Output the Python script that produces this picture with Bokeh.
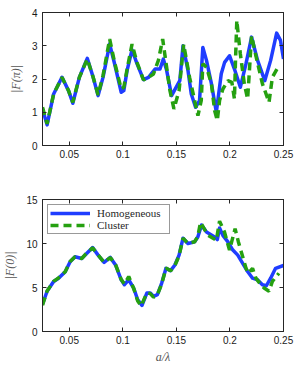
from bokeh.plotting import figure
from bokeh.layouts import column
from bokeh.models import (Range1d, FixedTicker, LinearAxis, Legend, LegendItem,
                          CustomJSTickFormatter)
from bokeh.embed import file_html
from bokeh.resources import INLINE

# ---------------- data ----------------
x_pi_hom = [0.025, 0.0293, 0.0354, 0.0432, 0.0493, 0.0533, 0.0594, 0.0668, 0.0723, 0.0769,
            0.0815, 0.0877, 0.0923, 0.0985, 0.1009, 0.104, 0.1086, 0.1132, 0.1193, 0.124,
            0.1301, 0.1347, 0.1378, 0.1409, 0.1455, 0.1532, 0.1562, 0.1608, 0.1639, 0.1679,
            0.1716, 0.1747, 0.1781, 0.1827, 0.1873, 0.1919, 0.195, 0.1996, 0.2042, 0.2097,
            0.215, 0.2202, 0.2258, 0.2325, 0.238, 0.2436, 0.2472, 0.25]
f_pi_hom = [1.10, 0.62, 1.55, 2.05, 1.65, 1.27, 2.05, 2.62, 2.05, 1.5,
            2.05, 3.05, 2.46, 1.6, 1.65, 2.26, 2.88, 2.46, 1.98, 2.05,
            2.3, 2.3, 2.6, 2.26, 1.5, 1.95, 3.0, 2.26, 1.55, 1.15,
            1.35, 2.95, 2.56, 1.86, 1.0, 2.16, 2.5, 2.7, 2.3, 1.75,
            2.46, 3.26, 2.56, 1.95, 2.56, 3.38, 3.16, 2.6]

x_pi_clu = [0.025, 0.0293, 0.0354, 0.0432, 0.0493, 0.0533, 0.0594, 0.0668, 0.0723, 0.0769,
            0.0815, 0.0877, 0.0923, 0.0985, 0.1009, 0.104, 0.1086, 0.1132, 0.1193, 0.124,
            0.1286, 0.1332, 0.1372, 0.1409, 0.144, 0.1477, 0.1525, 0.1568, 0.1623, 0.1701,
            0.1732, 0.1747, 0.1781, 0.1827, 0.1857, 0.1882, 0.1903, 0.1934, 0.1981, 0.2018,
            0.2042, 0.2051, 0.2064, 0.2097, 0.2134, 0.2165, 0.218, 0.2202, 0.2242, 0.2303,
            0.2365, 0.2396, 0.2448]
f_pi_clu = [1.15, 0.65, 1.55, 2.05, 1.65, 1.3, 2.05, 2.6, 2.05, 1.52,
            2.1, 3.2, 2.5, 1.7, 1.75, 2.3, 3.05, 2.5, 1.97, 2.05,
            2.15, 2.56, 3.2, 2.35, 1.65, 1.1, 1.65, 3.04, 2.05, 0.9,
            1.35, 2.46, 2.35, 1.86, 1.05, 0.75, 1.35, 1.7, 1.95, 1.9,
            1.4, 2.46, 3.76, 2.76, 1.86, 1.4, 2.16, 3.3, 2.7, 1.86,
            1.3, 2.05, 2.35]

x_0_hom = [0.025, 0.0293, 0.0354, 0.04, 0.0462, 0.0508, 0.0554, 0.0616, 0.0662, 0.0718,
           0.0769, 0.0825, 0.0883, 0.0932, 0.0985, 0.1015, 0.1055, 0.1101, 0.1138, 0.1179,
           0.1225, 0.1256, 0.1286, 0.1323, 0.1363, 0.1403, 0.1446, 0.1486, 0.1525, 0.1562,
           0.1608, 0.167, 0.170, 0.1735, 0.1781, 0.1857, 0.1882, 0.1903, 0.1934, 0.1981,
           0.2027, 0.2073, 0.2119, 0.2165, 0.2211, 0.2257, 0.2303, 0.234, 0.238, 0.2426, 0.25]
f_0_hom = [3.1, 4.57, 5.69, 6.06, 6.8, 7.93, 8.5, 8.3, 8.87, 9.54,
           8.68, 7.86, 8.42, 7.56, 5.88, 5.32, 5.88, 4.94, 3.64, 2.96,
           4.38, 4.38, 4.0, 4.2, 5.5, 7.18, 6.92, 7.56, 8.68, 10.6,
           10.0, 10.18, 10.74, 12.1, 11.3, 10.74, 10.44, 11.75, 10.93, 10.18,
           9.25, 8.68, 7.74, 6.81, 6.06, 5.88, 5.32, 5.2, 6.06, 7.18, 7.5]

x_0_clu = [0.025, 0.0293, 0.0354, 0.04, 0.0462, 0.0508, 0.0554, 0.0616, 0.0662, 0.0718,
           0.0769, 0.0825, 0.0883, 0.0932, 0.0985, 0.1015, 0.1055, 0.1101, 0.1138, 0.117,
           0.1225, 0.1256, 0.1286, 0.1323, 0.1363, 0.1403, 0.1446, 0.1486, 0.1525, 0.1562,
           0.1608, 0.167, 0.170, 0.1725, 0.1796, 0.1873, 0.1903, 0.1949, 0.1996, 0.2048,
           0.2079, 0.2119, 0.215, 0.2171, 0.2211, 0.2242, 0.2288, 0.2319, 0.2365, 0.2396, 0.2457]
f_0_clu = [3.0, 4.6, 5.7, 6.1, 6.8, 7.95, 8.5, 8.3, 8.9, 9.5,
           8.7, 7.85, 8.4, 7.6, 5.9, 5.4, 6.25, 4.9, 3.5, 2.9,
           4.4, 4.3, 3.9, 4.2, 5.4, 7.2, 6.9, 7.5, 8.6, 10.6,
           10.0, 10.2, 10.8, 12.4, 10.93, 10.37, 12.54, 11.3, 9.25, 11.67,
           10.18, 8.5, 7.18, 6.62, 7.18, 6.06, 5.32, 4.94, 4.57, 5.69, 6.62]

x_ticks = [0.05, 0.1, 0.15, 0.2, 0.25]
y_ticks_pi = [0, 1, 2, 3, 4]
y_ticks_0 = [0, 5, 10, 15]
series_names = ["Homogeneous", "Cluster"]

BLUE = "#1f3dff"
GREEN = "#25a010"
TICK_FONT = "Liberation Sans"
SERIF = "Liberation Serif"
FRAME = "#262626"


def make_fig(height, top, bottom, yticks, ymax, ylabel, xlabel=None):
    p = figure(width=295, height=height, output_backend="svg", toolbar_location=None,
               x_range=Range1d(0.025, 0.25), y_range=Range1d(0, ymax),
               min_border_left=39, min_border_right=12,
               min_border_top=top, min_border_bottom=bottom)
    p.grid.visible = False
    p.outline_line_color = FRAME
    p.outline_line_width = 1
    p.background_fill_color = "white"
    p.border_fill_color = "white"
    fmt = CustomJSTickFormatter(code="return tick.toString();")
    for ax in [p.xaxis[0], p.yaxis[0]]:
        ax.major_tick_in = 4
        ax.major_tick_out = 0
        ax.minor_tick_line_color = None
        ax.axis_line_color = FRAME
        ax.major_tick_line_color = FRAME
        ax.major_label_text_font = TICK_FONT
        ax.major_label_text_font_size = "10px"
        ax.major_label_text_color = "#1a1a1a"
        ax.axis_label_text_font = SERIF
        ax.axis_label_text_font_style = "italic"
        ax.axis_label_text_font_size = "12px"
        ax.axis_label_text_color = "#555555"
    p.xaxis[0].ticker = FixedTicker(ticks=x_ticks)
    p.xaxis[0].formatter = fmt
    p.xaxis[0].major_label_standoff = 4
    p.yaxis[0].ticker = FixedTicker(ticks=yticks)
    p.yaxis[0].major_label_standoff = 5
    p.yaxis[0].axis_label = ylabel
    p.yaxis[0].axis_label_standoff = 6
    if xlabel:
        p.xaxis[0].axis_label = xlabel
        p.xaxis[0].axis_label_standoff = 3
    # mirrored ticks (box on)
    for loc, tk in (("right", yticks), ("above", x_ticks)):
        ax = LinearAxis(ticker=FixedTicker(ticks=tk), major_tick_in=4, major_tick_out=0,
                        major_label_text_color=None, major_label_text_font_size="1px",
                        major_label_standoff=0,
                        minor_tick_line_color=None, axis_line_color=FRAME,
                        major_tick_line_color=FRAME)
        p.add_layout(ax, loc)
    return p


p1 = make_fig(178, 12, 33, y_ticks_pi, 4, "|F(π)|")
p1.line(x_pi_hom, f_pi_hom, line_color=BLUE, line_width=3.5, line_join="round")
p1.line(x_pi_clu, f_pi_clu, line_color=GREEN, line_width=3.5, line_dash="8 5")

p2 = make_fig(188, 21, 33, y_ticks_0, 15, "|F(0)|", xlabel="a/λ")
r_h = p2.line(x_0_hom, f_0_hom, line_color=BLUE, line_width=3.5, line_join="round")
r_c = p2.line(x_0_clu, f_0_clu, line_color=GREEN, line_width=3.5, line_dash="8 5")

legend = Legend(items=[LegendItem(label=series_names[0], renderers=[r_h]),
                       LegendItem(label=series_names[1], renderers=[r_c])],
                location="top_left", margin=5, padding=2, spacing=0,
                glyph_width=40, glyph_height=12, label_height=12, label_width=70,
                label_standoff=7,
                label_text_font=SERIF, label_text_font_size="11px",
                label_text_color="#262626",
                border_line_color="#333333", border_line_width=1,
                background_fill_color="white", background_fill_alpha=1)
p2.add_layout(legend)

layout = column(p1, p2, spacing=0)
open("out.html", "w").write(file_html(layout, INLINE))
